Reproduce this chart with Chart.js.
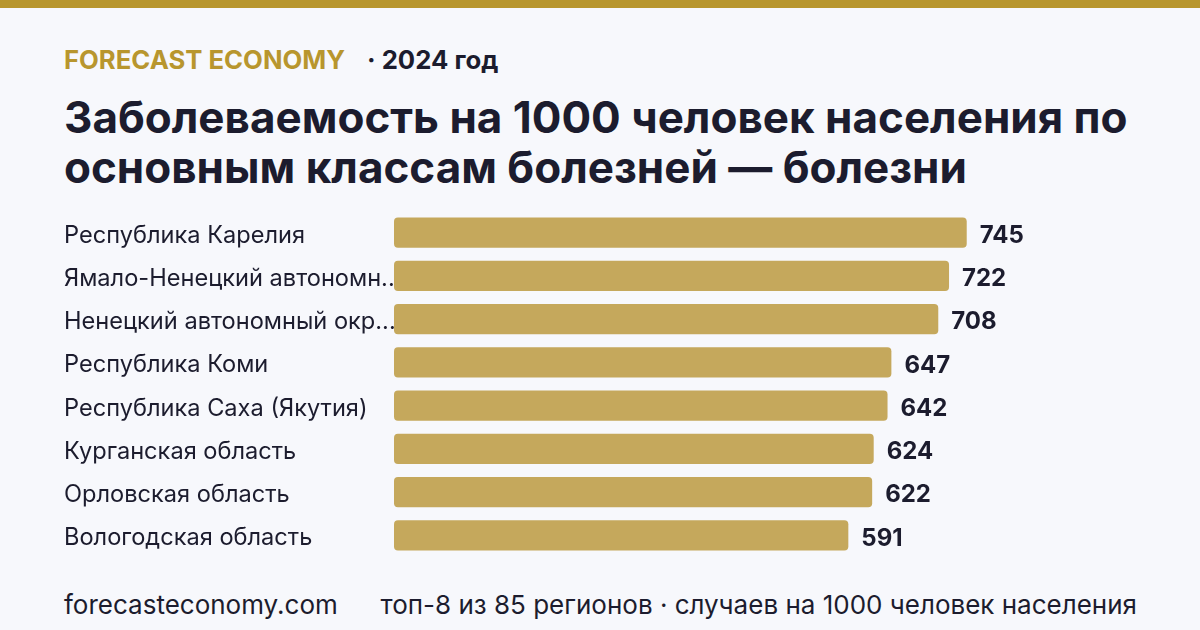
<!DOCTYPE html>
<html lang="ru">
<head>
<meta charset="utf-8">
<script src="https://cdn.jsdelivr.net/npm/chart.js@4.4.1/dist/chart.umd.min.js"></script>
<style>
  html, body { margin: 0; padding: 0; }
  body {
    width: 1200px; height: 630px; overflow: hidden; position: relative;
    background: #f7f8fc; font-family: Inter, "Noto Sans", sans-serif; color: #1c1c2e;
  }
  .topbar { position: absolute; left: 0; top: 0; width: 1200px; height: 8px; background: #b8962e; }
  .kicker { position: absolute; top: 44px; font-size: 25.7px; font-weight: 700; line-height: 32px; white-space: nowrap; }
  .kicker.brand { left: 64px; color: #b8962e; }
  .kicker.year { left: 367px; }
  h1 {
    position: absolute; left: 64px; top: 92px; margin: 0; width: 1120px;
    font-size: 44px; font-weight: 700; line-height: 50px;
  }
  .chart-box { position: absolute; left: 0; top: 205px; width: 1200px; height: 365px; }
  .footer { position: absolute; top: 590px; font-size: 26px; line-height: 30px; white-space: nowrap; }
  .footer.left { left: 64px; }
  .footer.right { right: 63px; }
</style>
</head>
<body>
<div class="topbar"></div>
<div class="kicker brand">FORECAST ECONOMY</div>
<div class="kicker year">· 2024 год</div>
<h1>Заболеваемость на 1000 человек населения по основным классам болезней — болезни</h1>
<div class="chart-box"><canvas id="grafica"></canvas></div>
<div class="footer left">forecasteconomy.com</div>
<div class="footer right">топ-8 из 85 регионов · случаев на 1000 человек населения</div>

<script>
const regiones = [
  "Республика Карелия",
  "Ямало-Ненецкий автономный округ",
  "Ненецкий автономный округ",
  "Республика Коми",
  "Республика Саха (Якутия)",
  "Курганская область",
  "Орловская область",
  "Вологодская область"
];
const valores = [745, 722, 708, 647, 642, 624, 622, 591];

const oro = '#c5a85c';
const tinta = '#1c1c2e';

// etiquetas de valor al final de cada barra
const etiquetasValor = {
  id: 'etiquetasValor',
  afterDatasetsDraw(chart) {
    const ctx = chart.ctx;
    const meta = chart.getDatasetMeta(0);
    ctx.save();
    ctx.font = '700 24px Inter, sans-serif';
    ctx.fillStyle = tinta;
    ctx.textBaseline = 'middle';
    ctx.textAlign = 'left';
    meta.data.forEach((bar, i) => {
      ctx.fillText(String(valores[i]), bar.x + 13, bar.y + 3);
    });
    ctx.restore();
  }
};

new Chart(document.getElementById('grafica'), {
  type: 'bar',
  data: {
    labels: regiones,
    datasets: [{
      data: valores,
      backgroundColor: oro,
      borderRadius: 4,
      borderSkipped: false,
      barPercentage: 0.694,
      categoryPercentage: 1
    }]
  },
  options: {
    indexAxis: 'y',
    responsive: true,
    maintainAspectRatio: false,
    animation: false,
    layout: { padding: { left: 64, right: 68, top: 6, bottom: 13 } },
    plugins: { legend: { display: false }, tooltip: { enabled: false } },
    scales: {
      x: { display: false, min: 0, max: 960 },
      y: {
        z: 1, // etiquetas encima de las barras (los puntos suspensivos)
        grid: { display: false },
        border: { display: false },
        afterFit(scale) {
          scale.width = 330;
          // que las etiquetas no empujen el área del gráfico
          scale.paddingTop = 0;
          scale.paddingBottom = 0;
        },
        ticks: {
          crossAlign: 'far',
          padding: 0,
          labelOffset: 3,
          color: tinta,
          font: { family: 'Inter, sans-serif', size: 23.6 },
          callback(v, i) {
            const t = regiones[i];
            return t.length > 24 ? t.slice(0, 23) + '...' : t;
          }
        }
      }
    }
  },
  plugins: [etiquetasValor]
});
</script>
</body>
</html>
